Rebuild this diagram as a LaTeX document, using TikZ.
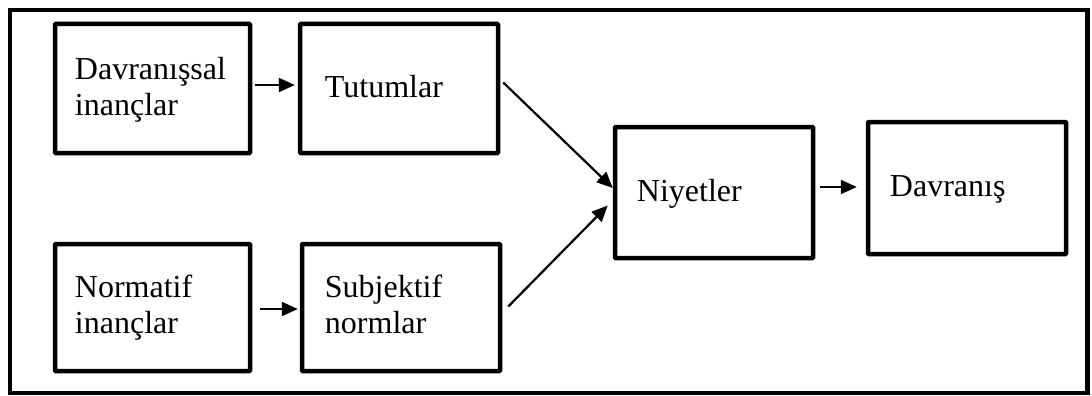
\documentclass[tikz,border=0pt]{standalone}
\usepackage{fontspec}
\setmainfont{Liberation Serif}
\usetikzlibrary{arrows.meta,calc}

\tikzset{
  stagebox/.style={draw, line width=4.5pt, rectangle, rounded corners=0.8pt,
                   inner sep=0pt, minimum width=198pt},
  stagetext/.style={anchor=base west, inner sep=0pt, align=left,
                    font=\fontsize{32}{36}\selectfont},
  flow/.style={line width=2.2pt, -{Triangle[length=16pt,width=14pt]}},
}

\begin{document}
\begin{tikzpicture}[x=1pt,y=-1pt]
  \useasboundingbox (0,0) rectangle (1092,396);

  % outer frame
  \draw[line width=4.5pt] (10,10) rectangle (1087.5,393);

  % stages
  \node[stagebox, minimum width=195pt, minimum height=129pt] (beh)  at (152.5,88.5) {};
  \node[stagebox, minimum height=129pt] (att)  at (399,88.5) {};
  \node[stagebox, minimum width=195pt, minimum height=127pt] (norm) at (152.5,307.5) {};
  \node[stagebox, minimum height=127pt] (subj) at (401,307.5) {};
  \node[stagebox, minimum height=131pt] (int)  at (714,192.5) {};
  \node[stagebox, minimum height=132pt] (act)  at (967,188) {};

  % stage labels (base anchor sits on the last line)
  \node[stagetext] (behT)  at ($(beh.north west)+(22,94)$)  {Davranışsal\\inançlar};
  \node[stagetext] (attT)  at ($(att.north west)+(27,76)$)  {Tutumlar};
  \node[stagetext] (normT) at ($(norm.north west)+(22,92)$) {Normatif\\inançlar};
  \node[stagetext] (subjT) at ($(subj.north west)+(25,92)$) {Subjektif\\normlar};
  \node[stagetext] (intT)  at ($(int.north west)+(24,77)$)  {Niyetler};
  \node[stagetext] (actT)  at ($(act.north west)+(24,77)$)  {Davranış};

  % connectors
  \draw[flow] ($(beh.east)+(3,-3.5)$) -- ($(att.west)+(-3,-3.5)$);
  \draw[flow] ($(norm.east)+(8,1.5)$) -- ($(subj.west)+(-2,1.5)$);
  \draw[flow] ($(att.east)+(3,-6)$) -- ($(int.west)+(0,-4.5)$);
  \draw[flow] ($(subj.east)+(6,-1)$) -- ($(int.west)+(-5,13)$);
  \draw[flow] ($(int.east)+(5,-5.5)$) -- ($(act.west)+(-9,-1)$);
\end{tikzpicture}
\end{document}
